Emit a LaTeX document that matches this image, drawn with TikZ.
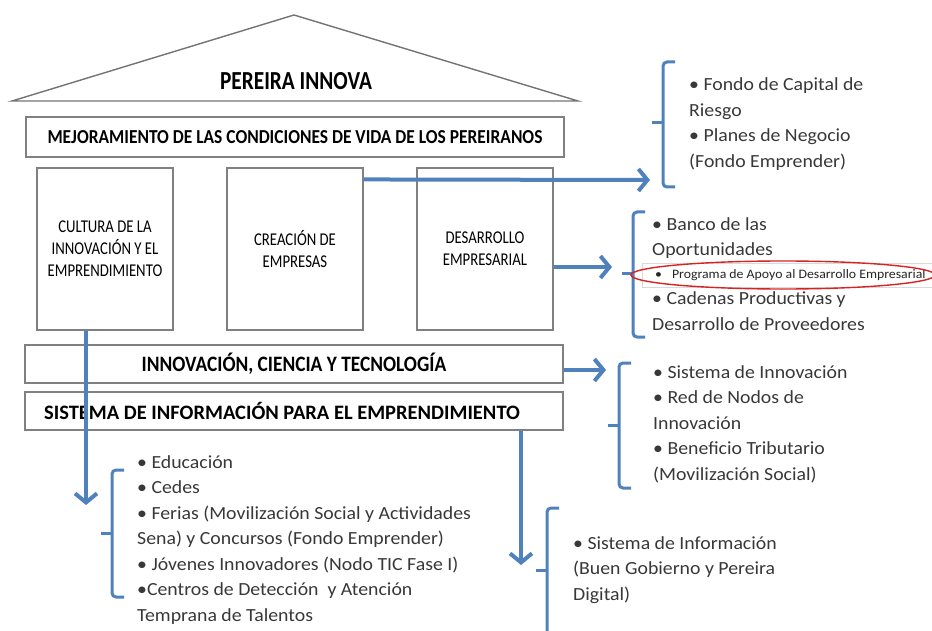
\documentclass[tikz,border=0pt]{standalone}
\usepackage{fontspec}
\usepackage{tikz}
\usetikzlibrary{arrows.meta}
\setmainfont{Carlito}
\newfontfamily\headfont[FakeStretch=0.82]{Carlito}
\newfontfamily\bandfont[FakeStretch=0.88]{Carlito}
\newfontfamily\listfont[FakeStretch=1.07]{Carlito}
\definecolor{blueline}{RGB}{79,129,189}
\definecolor{redring}{RGB}{215,35,35}

\begin{document}
\begin{tikzpicture}[x=1pt,y=-1pt,
  box/.style={draw=black!50,line width=1.1pt,fill=white,inner sep=0pt},
  pillar/.style={box,minimum width=136pt,minimum height=162pt,align=center,
    font=\headfont\fontsize{18}{22}\selectfont},
  band/.style={box,minimum width=538pt},
  flow/.style={draw=blueline,line width=4pt,-{Straight Barb[length=9pt,width=22pt]}},
  brace/.style={draw=blueline,line width=3pt,rounded corners=4pt},
  items/.style={align=left,anchor=west,inner sep=0pt,text=black!78,
    font=\listfont\fontsize{18.5}{25.5}\selectfont}]
  \useasboundingbox (0,0) rectangle (932,631);
  \clip (0,0) rectangle (932,631);

  % roof
  \draw[draw=black!55,line width=1.4pt] (12,101) -- (294,15) -- (578,101) -- cycle;
  \node[font=\headfont\bfseries\fontsize{26}{30}\selectfont] (title) at (296,81) {PEREIRA INNOVA};

  % house
  \node[band,minimum height=40pt,font=\bandfont\bfseries\fontsize{19.8}{24}\selectfont] (mejora) at (295,137)
    {MEJORAMIENTO DE LAS CONDICIONES DE VIDA DE LOS PEREIRANOS};
  \node[pillar] (cultura) at (105,249) {CULTURA DE LA\\INNOVACIÓN Y EL\\EMPRENDIMIENTO};
  \node[pillar] (creacion) at (295,249) {CREACIÓN DE\\EMPRESAS};
  \node[pillar] (desarrollo) at (485,249) {DESARROLLO\\EMPRESARIAL};
  \node[band,minimum height=38pt,font=\bandfont\bfseries\fontsize{22}{26}\selectfont] (innova) at (294,364)
    {INNOVACIÓN, CIENCIA Y TECNOLOGÍA};
  \node[band,minimum height=38pt] (sistema) at (294,411) {};
  \node[font=\bfseries\fontsize{20.5}{24}\selectfont] (sistematxt) at (282,411)
    {SISTEMA DE INFORMACIÓN PARA EL EMPRENDIMIENTO};

  % arrow ends
  \coordinate (fondos) at (650,180);
  \coordinate (banco) at (612,267);
  \coordinate (nodos) at (606,370);
  \coordinate (educa) at (86,505);
  \coordinate (info) at (521,565);

  \draw[flow] ([yshift=-12pt]creacion.north east) -- (fondos);
  \draw[flow] ([yshift=-18pt]desarrollo.east) -- (banco);
  \draw[flow] ([yshift=-6pt]innova.east) -- (nodos);
  \draw[flow] ([xshift=-19pt]cultura.south) -- (educa);
  \draw[flow] ([xshift=227pt]sistema.south) -- (info);

  % brackets
  \foreach \x/\top/\bot/\mid in {663/62/187/123, 633/212/337/274, 619/363/488/425, 112/470/597/533, 547/508/650/570}{
    \draw[brace] (\x+12,\top) -- (\x,\top) -- (\x,\bot) -- (\x+12,\bot);
    \draw[draw=blueline,line width=3pt] (\x,\mid) -- (\x-11,\mid);
  }

  % lists
  \node[items] (list1) at (689,124) {• Fondo de Capital de\\Riesgo\\• Planes de Negocio\\(Fondo Emprender)};
  \node[items] (list2a) at (652,238) {• Banco de las\\Oportunidades};
  \node[draw=black!15,line width=0.6pt,fill=white,minimum width=300pt,minimum height=24pt,anchor=west] (apoyo) at (642,275) {};
  \node[anchor=west,inner sep=0pt,text=black!85,font=\listfont\fontsize{12.9}{15}\selectfont] (apoyotxt) at (655,275)
    {•\hspace{10pt}Programa de Apoyo al Desarrollo Empresarial};
  \draw[draw=redring,line width=1.4pt] (783,275) ellipse [x radius=152pt,y radius=14pt];
  \node[items] (list2b) at (652,311) {• Cadenas Productivas y\\Desarrollo de Proveedores};
  \node[items] (list3) at (653,424) {• Sistema de Innovación\\• Red de Nodos de\\Innovación\\• Beneficio Tributario\\(Movilización Social)};
  \node[items] (list4) at (137,540) {• Educación\\• Cedes\\• Ferias (Movilización Social y Actividades\\Sena) y Concursos (Fondo Emprender)\\• Jóvenes Innovadores (Nodo TIC Fase I)\\•Centros de Detección\ \ y Atención\\Temprana de Talentos};
  \node[items] (list5) at (573,570) {• Sistema de Información\\(Buen Gobierno y Pereira\\Digital)};
\end{tikzpicture}
\end{document}
